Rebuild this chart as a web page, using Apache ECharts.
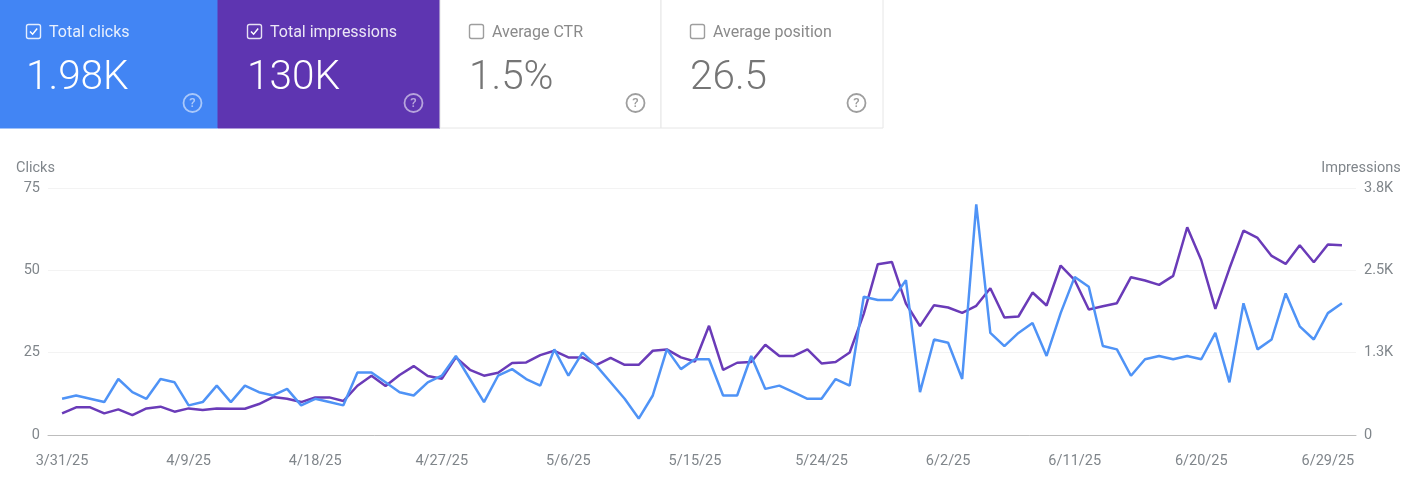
<!DOCTYPE html>
<html>
<head>
<meta charset="utf-8">
<style>
  html, body { margin: 0; padding: 0; background: #fff; }
  #charts { width: 1408px; height: 492px; }
</style>
<script src="https://cdn.jsdelivr.net/npm/echarts@6/dist/echarts.min.js"></script>
</head>
<body>
<div id="charts"></div>
<script>
const FONT = 'Roboto';

const clicks = [
  11, 12, 11, 10, 17, 13, 11, 17, 16, 9,
  10, 15, 10, 15, 13, 12, 14, 9, 11, 10,
  9, 19, 19, 16, 13, 12, 16, 18, 24, 17,
  10, 18, 20, 17, 15, 26, 18, 25, 21, 16,
  11, 5, 12, 26, 20, 23, 23, 12, 12, 24,
  14, 15, 13, 11, 11, 17, 15, 42, 41, 41,
  47, 13, 29, 28, 17, 70, 31, 27, 31, 34,
  24, 37, 48, 45, 27, 26, 18, 23, 24, 23,
  24, 23, 31, 16, 40, 26, 29, 43, 33, 29,
  37, 40,
];

const impressions = [
  328, 420, 420, 328, 389, 303, 404, 430, 354, 404,
  379, 404, 399, 399, 470, 576, 551, 500, 571, 571,
  515, 748, 900, 743, 910, 1046, 895, 854, 1178, 990,
  900, 945, 1092, 1102, 1213, 1279, 1178, 1178, 1066, 1172,
  1066, 1066, 1279, 1299, 1178, 1117, 1658, 990, 1097, 1107,
  1370, 1198, 1198, 1299, 1087, 1107, 1253, 1840, 2593, 2628,
  1996, 1653, 1971, 1936, 1855, 1961, 2229, 1784, 1799, 2163,
  1966, 2573, 2350, 1905, 1956, 2001, 2396, 2345, 2279, 2416,
  3154, 2653, 1915, 2527, 3103, 2992, 2719, 2598, 2881, 2623,
  2891, 2881,
];

// one blank day on each side so the lines stop short of the axis ends
const days = [''];
for (let i = 0; i < clicks.length; i++) {
  const d = new Date(2025, 2, 31 + i);
  days.push(`${d.getMonth() + 1}/${d.getDate()}/25`);
}
days.push('');

const tiles = [
  { x: 0, w: 218, pad: 0, bg: '#4285f4', fg: '#fff', title: 'Total clicks', value: '1.98K', checked: true },
  { x: 218, w: 222, pad: 3, bg: '#5e35b1', fg: '#fff', title: 'Total impressions', value: '130K', checked: true },
  { x: 440, w: 221, pad: 3, bg: '#fff', fg: '#757575', title: 'Average CTR', value: '1.5%', checked: false },
  { x: 661, w: 222, pad: 3, bg: '#fff', fg: '#757575', title: 'Average position', value: '26.5', checked: false },
];

function tileGraphic(t) {
  const light = t.bg === '#fff';
  const left = t.x + t.pad;
  const items = [
    {
      type: 'rect',
      shape: { x: t.x, y: -1, width: t.w, height: 129 },
      style: { fill: t.bg, stroke: light ? '#e6e6e6' : t.bg, lineWidth: 1 },
    },
    {
      type: 'rect',
      shape: { x: left + 26.5, y: 24.5, width: 14, height: 14, r: 2 },
      style: { fill: 'none', stroke: light ? '#9e9e9e' : 'rgba(255,255,255,0.85)', lineWidth: 1.4 },
    },
    {
      type: 'text',
      style: {
        x: left + 49, y: 32.5, text: t.title, fill: light ? '#8a8a8a' : 'rgba(255,255,255,0.88)',
        font: `16px ${FONT}`, verticalAlign: 'middle',
      },
    },
    {
      type: 'text',
      style: {
        x: left + 26, y: 79, text: t.value, fill: t.fg,
        font: `300 40.5px ${FONT}`, verticalAlign: 'middle',
      },
    },
    {
      type: 'circle',
      shape: { cx: left + 192.5, cy: 103, r: 9 },
      style: { fill: 'none', stroke: light ? '#9e9e9e' : 'rgba(255,255,255,0.55)', lineWidth: 1.8 },
    },
    {
      type: 'text',
      style: {
        x: left + 192.5, y: 103.5, text: '?', fill: light ? '#9e9e9e' : 'rgba(255,255,255,0.55)',
        font: `500 13px ${FONT}`, align: 'center', verticalAlign: 'middle',
      },
    },
  ];
  if (t.checked) {
    items.push({
      type: 'polyline',
      shape: { points: [[left + 30, 31.5], [left + 32.6, 34.2], [left + 37.2, 28.6]] },
      style: { fill: 'none', stroke: '#fff', lineWidth: 1.5 },
    });
  }
  return items;
}

const myCharts = echarts.init(document.getElementById('charts'));
const axisLabelColor = '#80868b';

const option = {
  animation: false,
  backgroundColor: '#fff',
  textStyle: { fontFamily: FONT },
  graphic: tiles.reduce((all, t) => all.concat(tileGraphic(t)), []),
  grid: { left: 48, right: 52, top: 188, bottom: 57 },
  xAxis: [{
    type: 'category',
    boundaryGap: false,
    data: days,
    axisTick: { show: false },
    axisLine: { lineStyle: { color: '#bdbdbd', width: 1 } },
    axisLabel: {
      color: axisLabelColor,
      fontSize: 14.5,
      margin: 19,
      // a label every 9 days starting at 3/31
      interval: (i) => i > 0 && (i - 1) % 9 === 0 && i < days.length - 1,
    },
  }],
  yAxis: [
    {
      type: 'value',
      min: 0,
      max: 75,
      interval: 25,
      name: 'Clicks',
      nameLocation: 'end',
      nameGap: 12,
      nameTextStyle: { color: axisLabelColor, fontSize: 14.5, align: 'center', padding: [0, 25, 0, 0] },
      axisLine: { show: false },
      axisTick: { show: false },
      axisLabel: { color: axisLabelColor, fontSize: 14.5, margin: 8 },
      splitLine: { lineStyle: { color: '#f3f3f3', width: 1 } },
    },
    {
      type: 'value',
      min: 0,
      max: 3750,
      interval: 1250,
      name: 'Impressions',
      nameLocation: 'end',
      nameGap: 12,
      nameTextStyle: { color: axisLabelColor, fontSize: 14.5, align: 'center', padding: [0, 0, 0, 10] },
      axisLine: { show: false },
      axisTick: { show: false },
      axisLabel: {
        color: axisLabelColor,
        fontSize: 14.5,
        margin: 8,
        formatter: (v) => (v === 0 ? '0' : `${(v / 1000).toFixed(1)}K`),
      },
      splitLine: { show: false },
    },
  ],
  series: [
    {
      name: 'Impressions',
      type: 'line',
      yAxisIndex: 1,
      showSymbol: false,
      color: '#6a3bb8',
      lineStyle: { width: 2.5 },
      data: [null, ...impressions, null],
    },
    {
      name: 'Clicks',
      type: 'line',
      yAxisIndex: 0,
      showSymbol: false,
      color: '#4f93f6',
      lineStyle: { width: 2.5 },
      data: [null, ...clicks, null],
    },
  ],
};

myCharts.setOption(option);
</script>
</body>
</html>
